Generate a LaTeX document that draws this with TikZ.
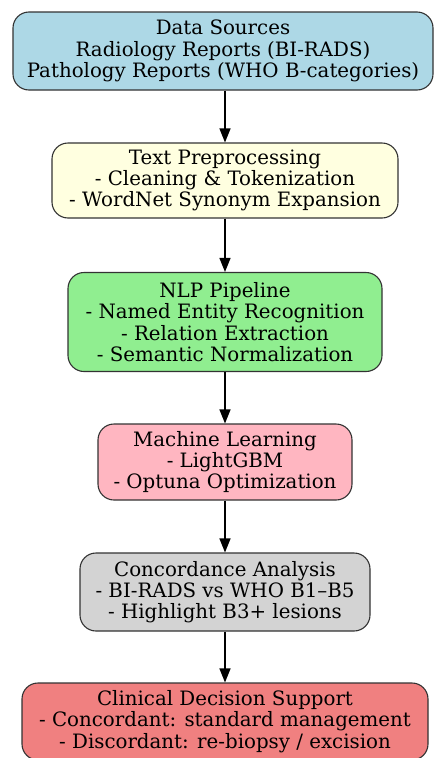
\documentclass[tikz,border=0pt]{standalone}
\usepackage{fontspec}
\setmainfont{DejaVu Serif}
\usetikzlibrary{arrows.meta,positioning}
\definecolor{srcblue}{RGB}{173,216,230}
\definecolor{prepyellow}{RGB}{255,255,224}
\definecolor{nlpgreen}{RGB}{144,238,144}
\definecolor{mlpink}{RGB}{255,182,193}
\definecolor{concgray}{RGB}{211,211,211}
\definecolor{cdscoral}{RGB}{240,128,128}

\begin{document}
\begin{tikzpicture}[x=1pt, y=-1pt,
    every node/.style={draw=black!80, line width=1.1pt, rounded corners=16pt, align=center, inner sep=0pt, font=\fontsize{19.8}{21.3}\selectfont},
    flow/.style={-{Triangle[length=14pt,width=11pt]}, line width=1.3pt}]
  \useasboundingbox (0,0) rectangle (436,758);
  \node[fill=srcblue, minimum width=420pt, minimum height=78pt] (src) at (223,51) {Data Sources\\Radiology Reports (BI-RADS)\\Pathology Reports (WHO B-categories)};
  \node[fill=prepyellow, minimum width=346pt, minimum height=75pt] (prep) at (225,180.5) {Text Preprocessing\\- Cleaning \& Tokenization\\- WordNet Synonym Expansion};
  \node[fill=nlpgreen, minimum width=314pt, minimum height=99pt] (nlp) at (225,322) {NLP Pipeline\\- Named Entity Recognition\\- Relation Extraction\\- Semantic Normalization};
  \node[fill=mlpink, minimum width=254pt, minimum height=76pt] (ml) at (225,462) {Machine Learning\\- LightGBM\\- Optuna Optimization};
  \node[fill=concgray, minimum width=290pt, minimum height=78pt] (conc) at (225,592) {Concordance Analysis\\- BI-RADS vs WHO B1--B5\\- Highlight B3+ lesions};
  \node[fill=cdscoral, minimum width=406pt, minimum height=77pt] (cds) at (225,721.5) {Clinical Decision Support\\- Concordant: standard management\\- Discordant: re-biopsy / excision};
  % arrows between stages
  \draw[flow] (src.south -| prep.north) -- (prep.north);
  \draw[flow] (prep) -- (nlp);
  \draw[flow] (nlp) -- (ml);
  \draw[flow] (ml) -- (conc);
  \draw[flow] (conc) -- (cds);
\end{tikzpicture}
\end{document}
